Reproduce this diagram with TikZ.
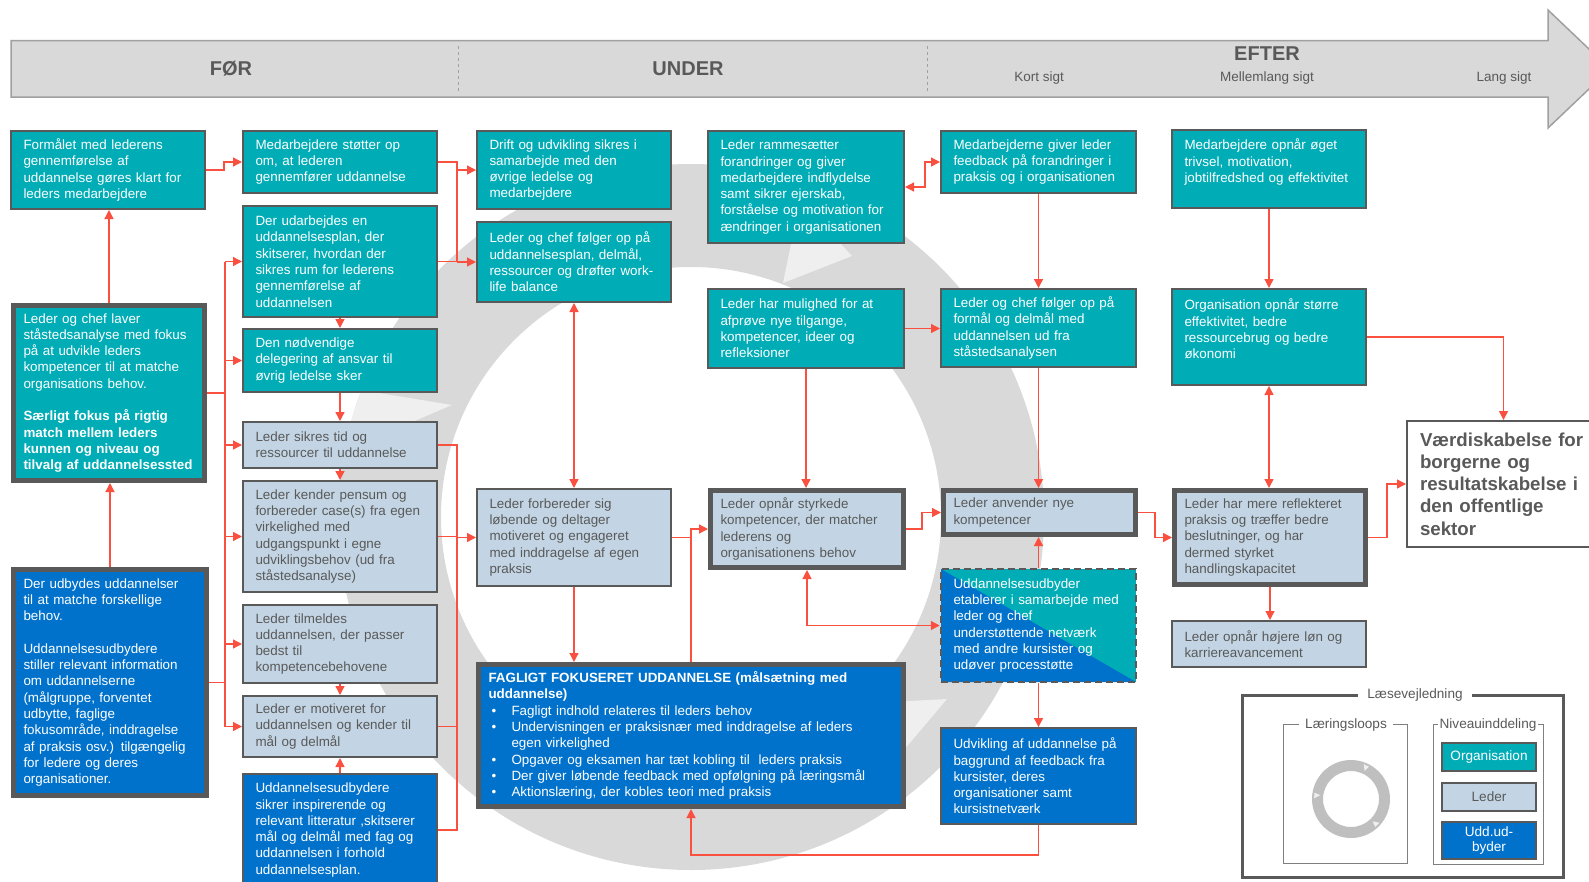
\documentclass[tikz,border=0pt]{standalone}
\usepackage{fontspec}
\setmainfont{Liberation Sans}
\usetikzlibrary{arrows.meta}

\definecolor{orgteal}{RGB}{0,173,183}
\definecolor{lederblue}{RGB}{195,213,228}
\definecolor{uddblue}{RGB}{0,114,204}
\definecolor{boxgray}{RGB}{89,89,89}
\definecolor{txtgray}{RGB}{89,89,89}
\definecolor{flowred}{RGB}{250,80,64}
\definecolor{ringgray}{RGB}{217,217,217}
\definecolor{notchgray}{RGB}{239,239,239}
\definecolor{headgray}{RGB}{217,217,217}
\definecolor{headline}{RGB}{160,160,160}
\definecolor{framegray}{RGB}{127,127,127}
\definecolor{keyring}{RGB}{191,191,191}

\begin{document}
\begin{tikzpicture}[x=1pt, y=-1pt,
    every node/.style={font=\fontsize{13.4}{16.3}\selectfont},
    box/.style={draw=boxgray, line width=2pt, align=left, inner xsep=12.5pt, inner ysep=0pt},
    heavy/.style={line width=5pt, inner xsep=10pt},
    mixed/.style={line width=2.5pt, dash pattern=on 7pt off 4pt,
      path picture={\fill[uddblue] (path picture bounding box.north west)
        -- (path picture bounding box.south east)
        -- (path picture bounding box.south west) -- cycle;}},
    orga/.style={box, fill=orgteal, text=white},
    leder/.style={box, fill=lederblue, text=txtgray},
    udd/.style={box, fill=uddblue, text=white},
    flow/.style={draw=flowred, line width=1.3pt, -{Triangle[length=9pt, width=9pt]}},
    twoway/.style={flow, {Triangle[length=9pt, width=9pt]}-{Triangle[length=9pt, width=9pt]}},
    link/.style={draw=flowred, line width=1.3pt},
    phase/.style={text=txtgray, font=\fontsize{20}{24}\selectfont\bfseries},
    horizon/.style={text=txtgray, font=\fontsize{13.5}{16}\selectfont},
    bracket/.style={draw=framegray, line width=1pt},
    keytitle/.style={fill=white, text=txtgray, inner xsep=6pt, inner ysep=1pt, font=\fontsize{13.6}{16}\selectfont},
    keybox/.style={minimum width=94pt, inner xsep=0pt, align=center, line width=1.5pt, font=\fontsize{13.6}{15}\selectfont},
  ]
  \useasboundingbox (0,0) rectangle (1589,881);

  % Learning loop in the background
  \fill[ringgray, even odd rule] (691,517) circle[radius=353] (691,517) circle[radius=250];
  \begin{scope}
    \clip (691,517) circle[radius=353];
    \fill[notchgray] (783,283) -- (852,256) -- (800,200) -- cycle;
    \fill[notchgray] (870,703) -- (947,699) -- (870,790) -- cycle;
    \fill[notchgray] (330,385) -- (452,405) -- (335,455) -- cycle;
  \end{scope}

  % Time line
  \draw[draw=headline, fill=headgray, line width=1.5pt]
    (11,40.5) -- (1548,40.5) -- (1548,10) -- (1610,69) -- (1548,128) -- (1548,97) -- (11,97) -- cycle;
  \draw[headline, dashed, line width=0.8pt] (458,46) -- (458,93);
  \draw[headline, dashed, line width=0.8pt] (927,46) -- (927,93);
  \node[phase] (foer) at (231,69) {FØR};
  \node[phase] (under) at (688,69) {UNDER};
  \node[phase] (efter) at (1267,54) {EFTER};
  \node[horizon] (kort) at (1039,78) {Kort sigt};
  \node[horizon] (mellem) at (1267,78) {Mellemlang sigt};
  \node[horizon] (lang) at (1504,78) {Lang sigt};

  % Before
  \node[orga, minimum width=194pt, minimum height=78pt, text width=169pt] (aim) at (108,170)
    {Formålet med lederens\\gennemførelse af\\uddannelse gøres klart for\\leders medarbejdere};
  \node[orga, heavy, minimum width=191pt, minimum height=175pt, text width=171pt] (analysis) at (109,393)
    {Leder og chef laver\\ståstedsanalyse med fokus\\på at udvikle leders\\kompetencer til at matche\\organisations behov.\\[16.3pt]
     \textbf{Særligt fokus på rigtig}\\\textbf{match mellem leders}\\\textbf{kunnen og niveau og}\\\textbf{tilvalg af uddannelsessted}};
  \node[udd, heavy, minimum width=193pt, minimum height=226pt, text width=173pt] (offer) at (110,682.5)
    {Der udbydes uddannelser\\til at matche forskellige\\behov.\\[16.3pt]
     Uddannelsesudbydere\\stiller relevant information\\om uddannelserne\\(målgruppe, forventet\\udbytte, faglige\\fokusområde, inddragelse\\af praksis osv.) tilgængelig\\for ledere og deres\\organisationer.};
  \node[orga, minimum width=194pt, minimum height=62pt, text width=169pt] (support) at (340,162)
    {Medarbejdere støtter op\\om, at lederen\\gennemfører uddannelse};
  \node[orga, minimum width=194pt, minimum height=111pt, text width=169pt] (plan) at (340,261.5)
    {Der udarbejdes en\\uddannelsesplan, der\\skitserer, hvordan der\\sikres rum for lederens\\gennemførelse af\\uddannelsen};
  \node[orga, minimum width=194pt, minimum height=63pt, text width=169pt] (deleg) at (340,360.5)
    {Den nødvendige\\delegering af ansvar til\\øvrig ledelse sker};
  \node[leder, minimum width=194pt, minimum height=46pt, text width=169pt] (time) at (340,445)
    {Leder sikres tid og\\ressourcer til uddannelse};
  \node[leder, minimum width=194pt, minimum height=111pt, text width=169pt] (pensum) at (340,536.5)
    {Leder kender pensum og\\forbereder case(s) fra egen\\virkelighed med\\udgangspunkt i egne\\udviklingsbehov (ud fra\\ståstedsanalyse)};
  \node[leder, minimum width=194pt, minimum height=78pt, text width=169pt] (enrol) at (340,644)
    {Leder tilmeldes\\uddannelsen, der passer\\bedst til\\kompetencebehovene};
  \node[leder, minimum width=194pt, minimum height=61pt, text width=169pt] (motiv) at (340,726.5)
    {Leder er motiveret for\\uddannelsen og kender til\\mål og delmål};
  \node[udd, minimum width=194pt, minimum height=112pt, text width=169pt] (litt) at (340,830)
    {Uddannelsesudbydere\\sikrer inspirerende og\\relevant litteratur ,skitserer\\mål og delmål med fag og\\uddannelsen i forhold\\uddannelsesplan.};

  % During
  \node[orga, minimum width=194pt, minimum height=78pt, text width=169pt] (ops) at (574,170)
    {Drift og udvikling sikres i\\samarbejde med den\\øvrige ledelse og\\medarbejdere};
  \node[orga, minimum width=194pt, minimum height=80pt, text width=169pt] (follow) at (574,262)
    {Leder og chef følger op på\\uddannelsesplan, delmål,\\ressourcer og drøfter work-\\life balance};
  \node[leder, minimum width=194pt, minimum height=97pt, text width=169pt] (prepare) at (574,537.5)
    {Leder forbereder sig\\løbende og deltager\\motiveret og engageret\\med inddragelse af egen\\praksis};
  \node[udd, heavy, minimum width=425pt, minimum height=142pt, text width=405pt] (course) at (691,735.5)
    {\textbf{FAGLIGT FOKUSERET UDDANNELSE (målsætning med}\\\textbf{uddannelse)}\\
     \hspace*{3pt}\makebox[20pt][l]{•}Fagligt indhold relateres til leders behov\\
     \hspace*{3pt}\makebox[20pt][l]{•}Undervisningen er praksisnær med inddragelse af leders\\
     \hspace*{23pt}egen virkelighed\\
     \hspace*{3pt}\makebox[20pt][l]{•}Opgaver og eksamen har tæt kobling til\ \ leders praksis\\
     \hspace*{3pt}\makebox[20pt][l]{•}Der giver løbende feedback med opfølgning på læringsmål\\
     \hspace*{3pt}\makebox[20pt][l]{•}Aktionslæring, der kobles teori med praksis};
  \node[orga, minimum width=196pt, minimum height=112pt, text width=171pt] (change) at (806,187)
    {Leder rammesætter\\forandringer og giver\\medarbejdere indflydelse\\samt sikrer ejerskab,\\forståelse og motivation for\\ændringer i organisationen};
  \node[orga, minimum width=196pt, minimum height=79pt, text width=171pt] (try) at (806,328.5)
    {Leder har mulighed for at\\afprøve nye tilgange,\\kompetencer, ideer og\\refleksioner};
  \node[leder, heavy, minimum width=193pt, minimum height=77pt, text width=173pt] (gain) at (807,529)
    {Leder opnår styrkede\\kompetencer, der matcher\\lederens og\\organisationens behov};

  % After
  \node[orga, minimum width=195pt, minimum height=62pt, text width=170pt] (feedback) at (1038.5,162)
    {Medarbejderne giver leder\\feedback på forandringer i\\praksis og i organisationen};
  \node[orga, minimum width=195pt, minimum height=78pt, text width=170pt] (followup) at (1038.5,328)
    {Leder og chef følger op på\\formål og delmål med\\uddannelsen ud fra\\ståstedsanalysen};
  \node[leder, heavy, minimum width=192pt, minimum height=44pt, text width=172pt] (apply) at (1039.5,512.5)
    {Leder anvender nye\\kompetencer};
  \node[orga, mixed, minimum width=195pt, minimum height=113pt, text width=170pt] (network) at (1038.5,625.5)
    {Uddannelsesudbyder\\etablerer i samarbejde med\\leder og chef\\understøttende netværk\\med andre kursister og\\udøver processtøtte};
  \node[udd, minimum width=195pt, minimum height=96pt, text width=170pt] (develop) at (1038.5,776)
    {Udvikling af uddannelse på\\baggrund af feedback fra\\kursister, deres\\organisationer samt\\kursistnetværk};
  \node[orga, minimum width=194pt, minimum height=78pt, text width=169pt] (staff) at (1269,169)
    {Medarbejdere opnår øget\\trivsel, motivation,\\jobtilfredshed og effektivitet\\\mbox{}};
  \node[orga, minimum width=194pt, minimum height=96pt, text width=169pt] (orgeff) at (1269,337)
    {Organisation opnår større\\effektivitet, bedre\\ressourcebrug og bedre\\økonomi\\\mbox{}};
  \node[leder, heavy, minimum width=191pt, minimum height=94pt, text width=171pt] (reflect) at (1270,537.5)
    {Leder har mere reflekteret\\praksis og træffer bedre\\beslutninger, og har\\dermed styrket\\handlingskapacitet};
  \node[leder, minimum width=194pt, minimum height=46pt, text width=169pt] (salary) at (1269,644)
    {Leder opnår højere løn og\\karriereavancement};
  \node[box, fill=white, text=txtgray, inner xsep=13pt, minimum width=193pt, minimum height=126pt,
        text width=167pt, font=\fontsize{18.7}{22.3}\selectfont\bfseries] (value) at (1503.5,484)
    {Værdiskabelse for\\borgerne og\\resultatskabelse i\\den offentlige\\sektor};

  % Connectors
  \coordinate (lbus) at (225,0);
  \coordinate (rbus) at (457,0);
  \draw[flow] (analysis.north) -- (analysis.north |- aim.south);
  \draw[flow] (offer.north) -- (offer.north |- analysis.south);
  \draw[flow] (aim.east) -- ++(18,0) |- (support.west);
  \draw[flow] (plan.south) -- (deleg.north);
  \draw[flow] (deleg.south) -- (time.north);
  \draw[flow] (time.south) -- (pensum.north);
  \draw[flow] (enrol.south) -- (motiv.north);
  \draw[flow] (litt.north) -- (motiv.south);
  \draw[link] (lbus |- plan.west) -- (lbus |- motiv.west);
  \draw[link] (analysis.east) -- (lbus |- analysis.east);
  \draw[link] (offer.east) -- (lbus |- offer.east);
  \foreach \n in {plan, deleg, time, pensum, enrol, motiv}
    \draw[flow] (lbus |- \n.west) -- (\n.west);
  \draw[link] (support.east) -- (rbus |- support.east) -- (rbus |- plan.east) -- (plan.east);
  \draw[flow] (rbus |- ops.west) -- (ops.west);
  \draw[flow] (rbus |- follow.west) -- (follow.west);
  \draw[link] (time.east) -- (rbus |- time.east) -- (rbus |- litt.east) -- (litt.east);
  \foreach \n in {pensum, motiv}
    \draw[link] (\n.east) -- (rbus |- \n.east);
  \draw[flow] (rbus |- prepare.west) -- (prepare.west);
  \draw[twoway] (follow.south) -- (prepare.north);
  \draw[flow] (prepare.south) -- (prepare.south |- course.north);
  \draw[flow] (prepare.east) -- (course.north |- prepare.east) |- (gain.west);
  \draw[link] (course.north) -- (course.north |- prepare.east);
  \draw[flow] (try.south) -- (try.south |- gain.north);
  \draw[twoway] (network.west) -| (gain.south);
  \draw[flow] (gain.east) -- ++(16,0) |- (apply.west);
  \draw[flow] (try.east) -- (try.east -| followup.west);
  \draw[twoway] (change.east) -- ++(20,0) |- (feedback.west);
  \draw[flow] (feedback.south) -- (followup.north);
  \draw[flow] (followup.south) -- (followup.south |- apply.north);
  \draw[flow] (network.north) -- (network.north |- apply.south);
  \draw[flow] (network.south) -- (network.south |- develop.north);
  \draw[flow] (develop.south) -- ++(0,30) -| (course.south);
  \draw[flow] (staff.south) -- (orgeff.north);
  \draw[twoway] (orgeff.south) -- (orgeff.south |- reflect.north);
  \draw[flow] (apply.east) -- ++(17,0) |- (reflect.west);
  \draw[flow] (reflect.south) -- (reflect.south |- salary.north);
  \draw[flow] (orgeff.east) -| (value.north);
  \draw[flow] (reflect.east) -- ++(19,0) |- (value.west);

  % Reading guide
  \draw[boxgray, line width=3pt] (1242,695) rectangle (1563,877);
  \node[keytitle, inner xsep=9pt] (guide) at (1415,695) {Læsevejledning};
  \draw[bracket] (1283,724) rectangle (1407,863);
  \node[keytitle] (loops) at (1346,725) {Læringsloops};
  \draw[bracket] (1433,724) rectangle (1543,864);
  \node[keytitle, inner xsep=2pt] (levels) at (1488,725) {Niveauinddeling};
  \fill[keyring, even odd rule] (1351,799) circle[radius=39] (1351,799) circle[radius=28];
  \foreach \a in {-64, -173, 46}
    \fill[notchgray, shift={(1351,799)}] ({\a-6}:37) -- ({\a+3}:37) -- (\a:31) -- cycle;
  \node[orga, keybox, minimum height=28pt] (keyorg) at (1489,757) {Organisation};
  \node[leder, keybox, minimum height=28pt] (keyleder) at (1489,797) {Leder};
  \node[udd, keybox, minimum height=37pt] (keyudd) at (1489,840.5) {Udd.ud-\\byder};
\end{tikzpicture}
\end{document}
